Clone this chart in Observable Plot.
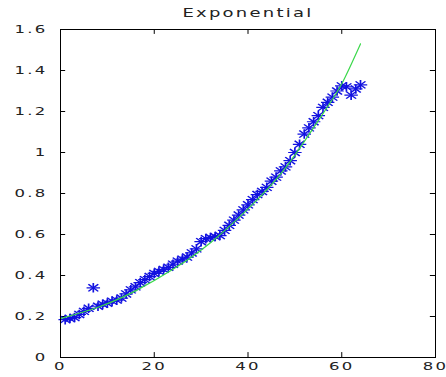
<!DOCTYPE html>
<html>
<head>
<meta charset="utf-8">
<script src="https://cdn.jsdelivr.net/npm/d3@7"></script>
<script src="https://cdn.jsdelivr.net/npm/@observablehq/plot@0.6"></script>
<style>
  html, body { margin: 0; padding: 0; background: #fff; }
  #chart svg { display: block; }
</style>
</head>
<body>
<div id="chart"></div>
<script>
const title = "Exponential";

// observed data (x index, value)
const xs = [1,2,3,4,5,6,7,8,9,10,11,12,13,14,15,16,17,18,19,20,21,22,23,24,25,26,27,28,29,30,31,32,33,34,35,36,37,38,39,40,41,42,43,44,45,46,47,48,49,50,51,52,53,54,55,56,57,58,59,60,61,62,63,64];
const ys = [0.185,0.19,0.195,0.21,0.225,0.24,0.34,0.25,0.26,0.265,0.275,0.28,0.29,0.31,0.33,0.345,0.365,0.38,0.395,0.41,0.42,0.43,0.44,0.455,0.47,0.48,0.49,0.51,0.53,0.565,0.58,0.585,0.59,0.595,0.62,0.645,0.67,0.695,0.72,0.745,0.77,0.795,0.81,0.83,0.86,0.88,0.91,0.93,0.96,1.0,1.04,1.09,1.12,1.15,1.18,1.22,1.245,1.27,1.3,1.325,1.32,1.28,1.31,1.33];

// fitted exponential curve
const fitX = [0,8,16,24,32,40,48,56,60,64];
const fitY = [0.19,0.245,0.325,0.43,0.56,0.725,0.925,1.19,1.335,1.53];

// axis ticks
const xTicks = [0,20,40,60,80];
const xTickLabels = ["0","20","40","60","80"];
const yTicks = [0,0.2,0.4,0.6,0.8,1,1.2,1.4,1.6];
const yTickLabels = ["0","0.2","0.4","0.6","0.8","1","1.2","1.4","1.6"];

const pts = xs.map((x, i) => ({x, y: ys[i]}));
const fit = fitX.map((x, i) => ({x, y: fitY[i]}));

const innerX = xTicks.slice(1, -1);
const innerY = yTicks.slice(1, -1);

const chart = Plot.plot({
  width: 446,
  height: 377,
  marginLeft: 60,
  marginRight: 11,
  marginTop: 29,
  marginBottom: 20,
  style: {fontFamily: "'DejaVu Sans', sans-serif", fontSize: "11px", color: "#222", background: "#fff", overflow: "visible"},
  x: {domain: [0, 80], ticks: xTicks},
  y: {domain: [0, 1.6], ticks: yTicks},
  marks: [
    Plot.axisX(xTicks, {tickSize: 0, tickPadding: 5, tickFormat: (d, i) => xTickLabels[i], label: null}),
    Plot.axisY(yTicks, {tickSize: 0, tickPadding: 13, tickFormat: (d, i) => yTickLabels[i], label: null}),
    // inward ticks on all four sides
    Plot.ruleX(innerX, {x: d => d, y1: 0, y2: 0.024, stroke: "#000"}),
    Plot.ruleX(innerX, {x: d => d, y1: 1.6, y2: 1.576, stroke: "#000"}),
    Plot.ruleY(innerY, {y: d => d, x1: 0, x2: 1.1, stroke: "#000"}),
    Plot.ruleY(innerY, {y: d => d, x1: 80, x2: 78.9, stroke: "#000"}),
    Plot.dot(pts, {x: "x", y: "y", symbol: "plus", r: 3.2, stroke: "#1212e0", strokeWidth: 1.2}),
    Plot.dot(pts, {x: "x", y: "y", symbol: "times", r: 3.3, stroke: "#1212e0", strokeWidth: 1.2}),
    Plot.line(fit, {x: "x", y: "y", curve: "natural", stroke: "#3ad84a", strokeWidth: 1.2}),
    Plot.frame({stroke: "#000"}),
    Plot.text([title], {frameAnchor: "top", lineAnchor: "middle", dy: -16, text: d => d, fontSize: 12, fill: "#222"})
  ]
});

// horizontal stretch of texts and markers, as in the reference
function stretch(el, sx) {
  const t = el.getAttribute("transform") || "";
  el.setAttribute("transform", `${t} scale(${sx},1)`.trim());
}
chart.querySelectorAll("text").forEach(t => {
  t.setAttribute("letter-spacing", "1.5");
  stretch(t, 1.5);
});
chart.querySelectorAll("[aria-label='dot'] path").forEach(p => stretch(p, 1.4));
document.getElementById("chart").appendChild(chart);
</script>
</body>
</html>
